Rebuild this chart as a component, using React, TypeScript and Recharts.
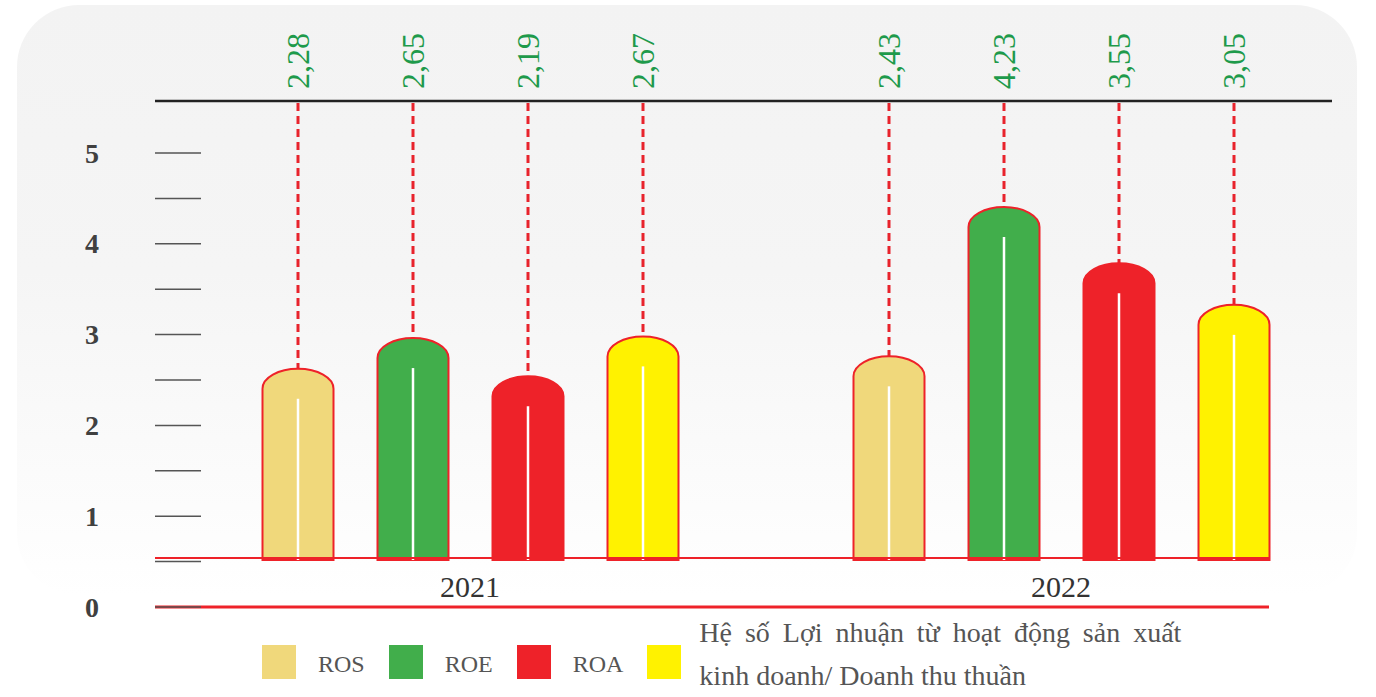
import React from "react";
import { BarChart, Bar, XAxis, YAxis, ReferenceLine, Legend } from "recharts";

const years = ["2021", "2022"];
const rosValues = [2.28, 2.43];
const roeValues = [2.65, 4.23];
const roaValues = [2.19, 3.55];
const profitValues = [2.67, 3.05];

const seriesKeys = ["ros", "roe", "roa", "profit"];
const seriesNames = [
  "ROS",
  "ROE",
  "ROA",
  "Hệ số Lợi nhuận từ hoạt động sản xuất kinh doanh/ Doanh thu thuần",
];
const seriesColors = ["#F0D87B", "#41AE4B", "#EE2229", "#FFF200"];

const yTickValues = [0, 0.5, 1, 1.5, 2, 2.5, 3, 3.5, 4, 4.5, 5];

const data = years.map((year, i) => ({
  year,
  ros: rosValues[i],
  roe: roeValues[i],
  roa: roaValues[i],
  profit: profitValues[i],
}));

const W = 1376;
const H = 697;
const PLOT_TOP = 101;
const LINE_X1 = 155;
const SERIF = "'Liberation Serif', 'DejaVu Serif', serif";
const RED = "#EE2229";

// two y scales: one for the printed 0..5 axis, one for the bars (baseline sits higher)
const LABEL_DOMAIN: [number, number] = [0, 5.573];
const BAR_DOMAIN: [number, number] = [-0.59, 5.506];

const fmt = (v: number) => v.toFixed(2).replace(".", ",");

const makeBarShape = (key: string) => (props: any) => {
  const { x, y, width, height, fill, payload } = props;
  const v = payload[key];
  const cx = x + width / 2;
  const bottom = y + height;
  const ry = Math.min(20, height / 2);
  const d = `M${x},${bottom + 2} L${x},${y + ry} A${width / 2},${ry} 0 0 1 ${x + width},${y + ry} L${x + width},${bottom + 2} Z`;
  return (
    <g>
      <line
        x1={cx}
        x2={cx}
        y1={PLOT_TOP + 2}
        y2={y}
        stroke="#E8232C"
        strokeWidth={3}
        strokeDasharray="8 5"
      />
      <path d={d} fill={fill} stroke={RED} strokeWidth={2} />
      <line
        x1={cx}
        x2={cx}
        y1={y + 30}
        y2={bottom + 2}
        stroke="#ffffff"
        strokeWidth={2.5}
      />
      <text
        x={cx}
        y={89}
        transform={`rotate(-90 ${cx} 89)`}
        textAnchor="start"
        dominantBaseline="central"
        fontFamily={SERIF}
        fontSize={32}
        fill="#1E9A4B"
      >
        {fmt(v)}
      </text>
    </g>
  );
};

const YTick = (props: any) => {
  const { y, payload } = props;
  const v = payload.value;
  return (
    <g>
      <line x1={LINE_X1} x2={201} y1={y} y2={y} stroke="#555" strokeWidth={1.5} />
      {Number.isInteger(v) && (
        <text
          x={92}
          y={y}
          textAnchor="middle"
          dominantBaseline="central"
          fontFamily={SERIF}
          fontWeight="bold"
          fontSize={28}
          fill="#404040"
        >
          {v}
        </text>
      )}
    </g>
  );
};

const XTick = (props: any) => {
  const { x, y, payload } = props;
  return (
    <text
      x={x}
      y={y}
      dy={-18}
      textAnchor="middle"
      fontFamily={SERIF}
      fontSize={30}
      fill="#333"
    >
      {payload.value}
    </text>
  );
};

const hLine = (x2: number, color: string, width: number) => (p: any) =>
  (
    <line
      x1={LINE_X1}
      x2={x2}
      y1={p.y1}
      y2={p.y1}
      stroke={color}
      strokeWidth={width}
    />
  );

const LegendContent = () => (
  <div
    style={{
      display: "flex",
      alignItems: "flex-start",
      fontFamily: SERIF,
      color: "#555",
    }}
  >
    {seriesKeys.map((k, i) => {
      const last = i === seriesKeys.length - 1;
      return (
        <React.Fragment key={k}>
          <div
            style={{
              width: 34,
              height: 34,
              marginTop: 35,
              marginRight: last ? 18 : 22,
              background: seriesColors[i],
              flexShrink: 0,
            }}
          />
          {last ? (
            <div
              style={{
                width: 482,
                fontSize: 28,
                lineHeight: "43px",
                marginTop: 1,
                textAlign: "justify",
              }}
            >
              {seriesNames[i]}
            </div>
          ) : (
            <div
              style={{
                fontSize: 24,
                lineHeight: "34px",
                marginTop: 37,
                marginRight: 24,
              }}
            >
              {seriesNames[i]}
            </div>
          )}
        </React.Fragment>
      );
    })}
  </div>
);

export default function App() {
  return (
    <div
      style={{
        position: "absolute",
        left: 0,
        top: 0,
        width: W,
        height: H,
        background: "#ffffff",
        overflow: "hidden",
      }}
    >
      <div
        style={{
          position: "absolute",
          left: 17,
          top: 5,
          width: 1340,
          height: 590,
          borderRadius: 62,
          background: "linear-gradient(#F3F3F3 0%, #F5F5F5 45%, #FCFCFC 85%, #FFFFFF 100%)",
        }}
      />
      <div style={{ position: "absolute", left: 0, top: 0 }}>
        <BarChart
          width={W}
          height={H}
          data={data}
          margin={{ top: PLOT_TOP, right: 19.5, bottom: 60, left: 0 }}
          barSize={71}
          barGap={44}
        >
          <XAxis
            dataKey="year"
            axisLine={false}
            tickLine={false}
            height={30}
            tick={<XTick />}
          />
          <YAxis
            yAxisId="lbl"
            type="number"
            domain={LABEL_DOMAIN}
            allowDataOverflow
            ticks={yTickValues}
            interval={0}
            width={174.5}
            axisLine={false}
            tickLine={false}
            tick={<YTick />}
          />
          <YAxis yAxisId="bar" type="number" domain={BAR_DOMAIN} hide />
          {seriesKeys.map((k, i) => (
            <Bar
              key={k}
              yAxisId="bar"
              dataKey={k}
              name={seriesNames[i]}
              fill={seriesColors[i]}
              shape={makeBarShape(k)}
              isAnimationActive={false}
            />
          ))}
          <ReferenceLine yAxisId="lbl" y={LABEL_DOMAIN[1]} shape={hLine(1332, "#222", 2.5)} />
          <ReferenceLine yAxisId="bar" y={0} shape={hLine(1270, RED, 2)} />
          <ReferenceLine yAxisId="lbl" y={0} shape={hLine(1269, RED, 3)} />
          <Legend
            layout="vertical"
            align="center"
            verticalAlign="middle"
            content={<LegendContent />}
            wrapperStyle={{ left: 262, top: 610, width: 940, height: 87 }}
          />
        </BarChart>
      </div>
    </div>
  );
}
